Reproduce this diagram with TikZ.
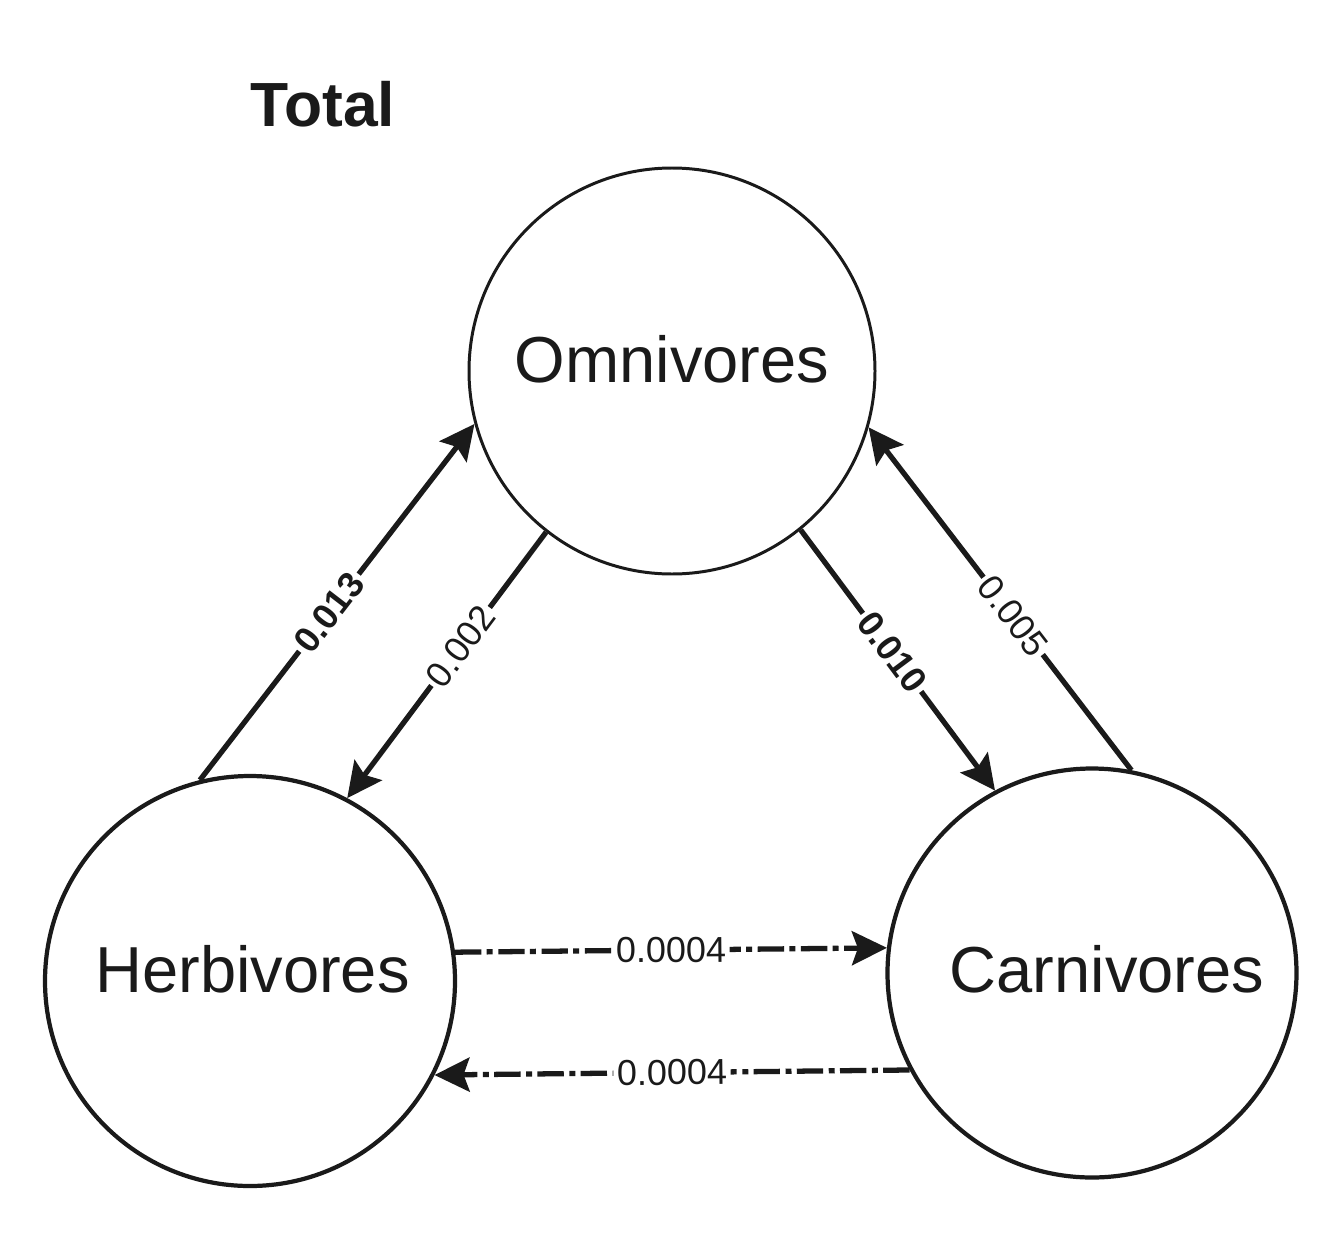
\documentclass[tikz,border=0pt]{standalone}
\usepackage{fontspec}
\setmainfont{Liberation Sans}
\usetikzlibrary{arrows.meta,positioning}
\definecolor{cink}{HTML}{1A1A1A}
\tikzset{
  guild/.style={circle, draw=cink, inner sep=0pt, text=cink, text depth=0.5cm, font=\fontsize{37}{40}\selectfont},
  flow/.style={-{Stealth[length=0.7cm, width=0.68cm, inset=0.12cm]}, draw=cink, line width=3pt},
  leak/.style={flow, dash pattern=on 15pt off 3pt on 3.4pt off 3.2pt},
  rate/.style={fill=white, sloped, inner sep=2pt, text=cink, font=\fontsize{20.5}{22}\selectfont},
  brate/.style={rate, font=\fontsize{20.5}{22}\selectfont\bfseries},
  ttl/.style={text=cink, font=\fontsize{35.5}{40}\selectfont\bfseries},
}
\begin{document}
\begin{tikzpicture}[x=1cm,y=1cm]
\useasboundingbox (0,0) rectangle (26.84,-24.94);
\node[ttl] (title) at (6.46,-2.08) {Total};
\node[guild, minimum size=8.12cm, line width=1.7pt] (omni) at (13.44,-7.42) {Omnivores};
\node[guild, minimum size=8.2cm, line width=2.4pt] (herb) at (5.0,-19.62) {\hspace{0.1cm}Herbivores};
\node[guild, minimum size=8.18cm, line width=2.4pt, text depth=0.15cm] (carn) at (21.84,-19.46) {\hspace{0.6cm}Carnivores};
% herbivores <-> omnivores
\draw[flow] (herb.104.5) -- node[brate, pos=0.47] {0.013} (omni.195.9);
\draw[flow] (omni.232.7) -- node[rate, pos=0.43] {0.002} (herb.62.5);
% omnivores <-> carnivores
\draw[flow] (omni.309.6) -- node[brate, pos=0.47] {0.010} (carn.118.2);
\draw[flow] (carn.79.2) -- node[rate, pos=0.45] {0.005} (omni.344.5);
% herbivores <-> carnivores
\draw[leak] (herb.8.7) -- node[rate, pos=0.5] {0.0004} (carn.173.56);
\draw[leak] (carn.208.56) -- node[rate, pos=0.5] {0.0004} (herb.333.9);
\end{tikzpicture}
\end{document}
